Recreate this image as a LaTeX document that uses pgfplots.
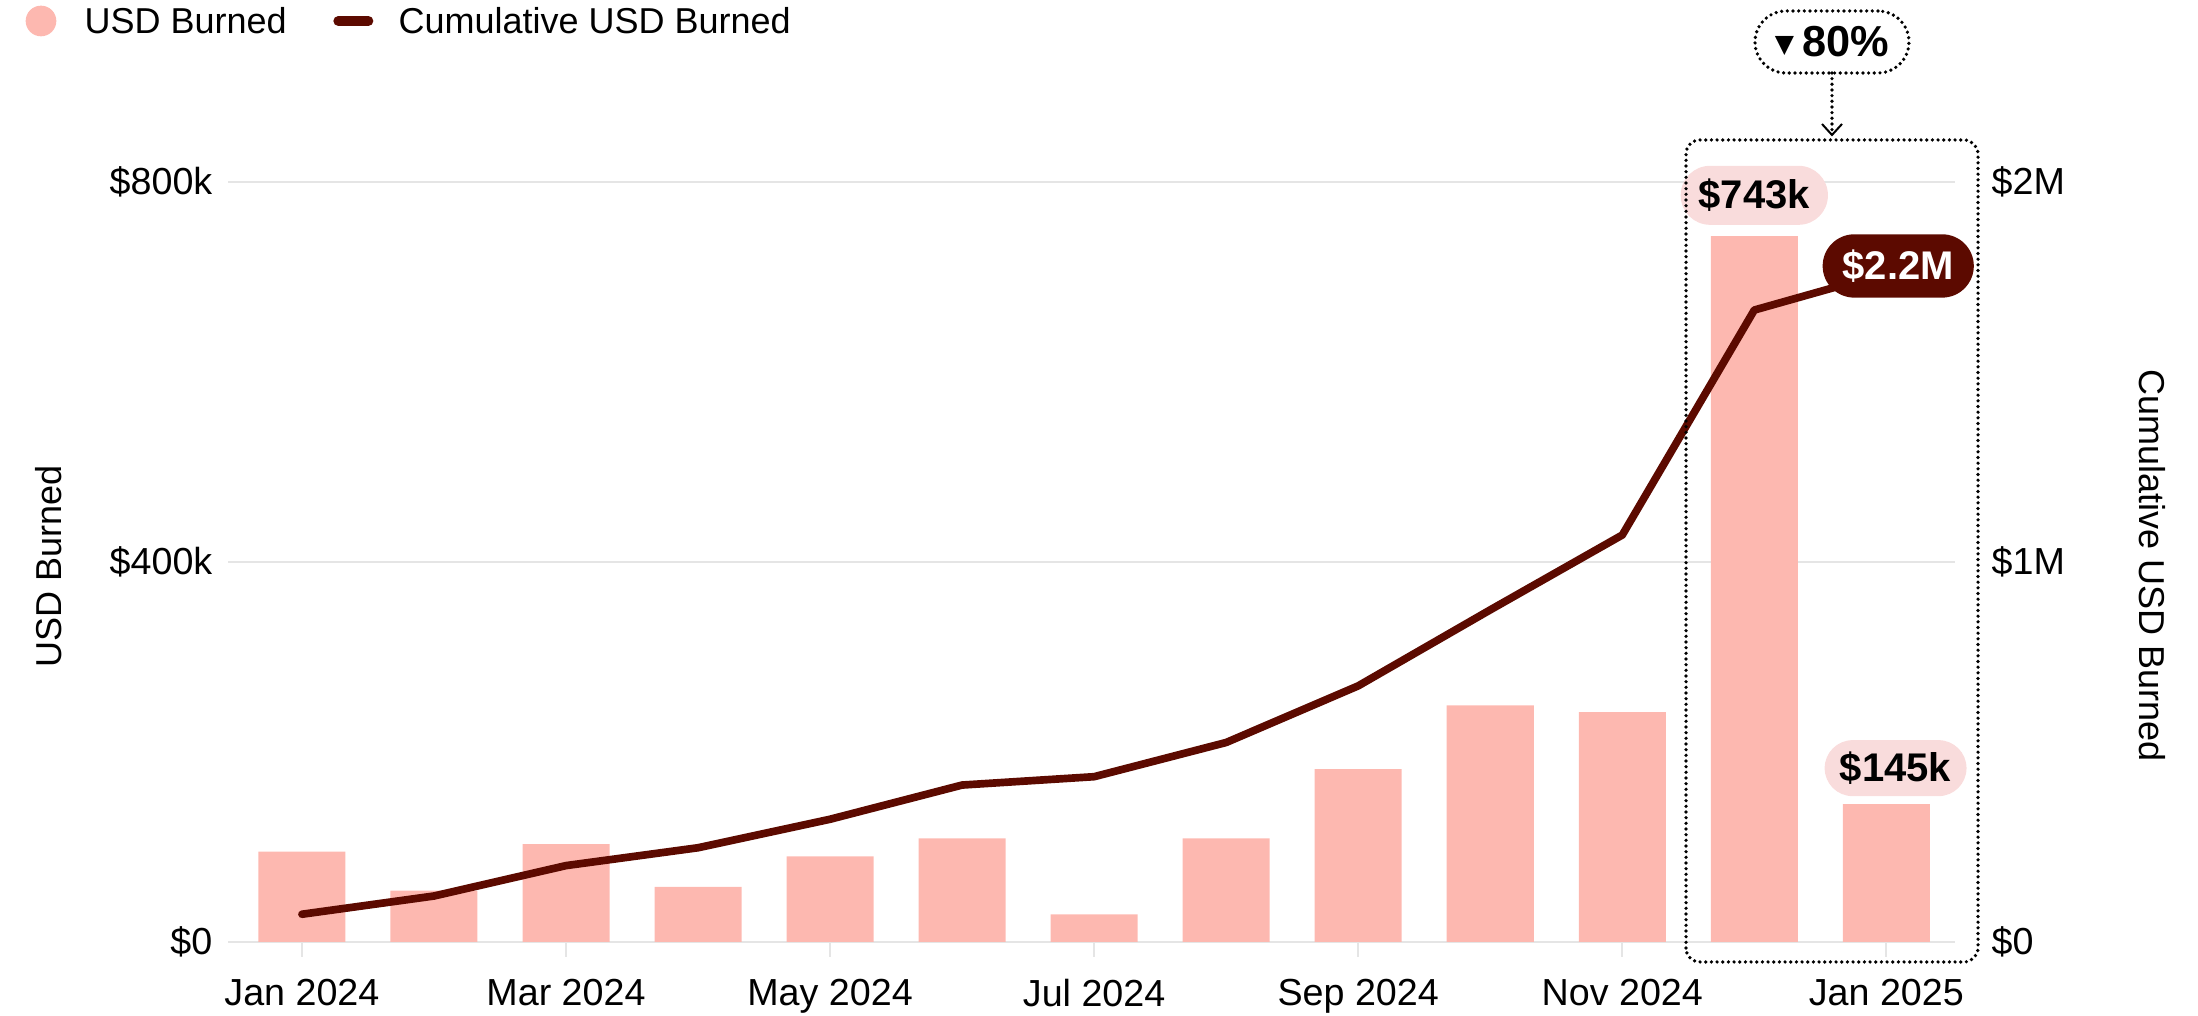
\documentclass[border=0pt]{standalone}
\usepackage{pgfplots}
\pgfplotsset{compat=1.18}
\usepackage{fontspec}
\setmainfont{Liberation Sans}
\newfontfamily\dejavu{DejaVu Sans}
\usetikzlibrary{arrows.meta}
\definecolor{barpink}{RGB}{253,184,176}
\definecolor{maroon}{RGB}{92,10,0}
\definecolor{pillpink}{RGB}{249,220,220}
\definecolor{gridgray}{RGB}{229,229,229}
\begin{document}
\begin{tikzpicture}
\path[use as bounding box] (0,0) rectangle (659.4pt,304.8pt);
\begin{axis}[
  at={(68.4pt,22.2pt)}, anchor=south west,
  scale only axis, width=518.1pt, height=228pt,
  xmin=-0.56, xmax=12.52, ymin=0, ymax=800,
  axis line style={draw=none},
  ytick={0,400,800}, yticklabels={\$0,\$400k,\$800k},
  ymajorgrids, grid style={gridgray, line width=0.6pt},
  ytick style={draw=none},
  xtick={0,2,4,6,8,10,12}, xtick pos=bottom, ytick pos=left,
  xticklabels={Jan 2024,Mar 2024,May 2024,Jul 2024,Sep 2024,Nov 2024,Jan 2025},
  xtick style={draw=gridgray, line width=0.6pt},
  tick align=outside, major tick length=4.5pt,
  ticklabel style={font=\fontsize{11.3}{13}\selectfont},
  yticklabel style={anchor=east, inner sep=0pt, xshift=0pt},
  xticklabel style={anchor=north, inner sep=0pt, yshift=-6.5pt},
  clip=false,
]
\addplot[ybar, bar width=26.1pt, fill=barpink, draw=none] coordinates {
(0,95) (1,54) (2,103) (3,58) (4,90) (5,109) (6,29) (7,109) (8,182) (9,249) (10,242) (11,743) (12,145)};
\node[fill=pillpink, rounded corners=8.8pt, inner xsep=5.4pt, inner ysep=0pt, minimum height=17.7pt, font=\bfseries\fontsize{12}{14}\selectfont] at (axis cs:11,786) {\$743k};
\node[fill=pillpink, rounded corners=8.4pt, inner xsep=4.6pt, inner ysep=0pt, minimum height=16.8pt, font=\bfseries\fontsize{12}{14}\selectfont] at (axis cs:12.07,183) {\$145k};
\end{axis}
\begin{axis}[
  at={(68.4pt,22.2pt)}, anchor=south west,
  scale only axis, width=518.1pt, height=228pt,
  xmin=-0.56, xmax=12.52, ymin=0, ymax=2000,
  hide x axis, axis y line*=right,
  axis line style={draw=none},
  ytick={0,1000,2000}, yticklabels={\$0,\$1M,\$2M},
  ytick style={draw=none},
  ticklabel style={font=\fontsize{11.3}{13}\selectfont},
  yticklabel style={anchor=west, inner sep=0pt, xshift=10.8pt},
  clip=false,
]
\addplot[maroon, line width=2.3pt, line join=round, line cap=round] coordinates {
(0,73) (1,121) (2,201) (3,248) (4,323) (5,413) (6,435) (7,525) (8,674) (9,874) (10,1071) (11,1663) (12,1761)};
\node[fill=maroon, text=white, rounded corners=9.5pt, inner xsep=6pt, inner ysep=0pt, minimum height=19pt, font=\bfseries\fontsize{12}{14}\selectfont] at (axis cs:12.09,1779) {\$2.2M};
\end{axis}
% highlight box
\draw[line width=1.1pt, dash pattern=on 0pt off 1.7pt, line cap=round, rounded corners=4.2pt] (505.8pt,16.2pt) rectangle (593.4pt,262.8pt);
\node[draw, line width=1.1pt, dash pattern=on 0pt off 1.7pt, line cap=round, rounded corners=9.3pt, minimum width=46.2pt, minimum height=18.6pt, inner sep=0pt, font=\bfseries\fontsize{13}{15}\selectfont] at (549.6pt,292.2pt) {\raisebox{1.2pt}{\dejavu\fontsize{7.5}{8}\selectfont ▼}\hspace{2.5pt}80\%};
\draw[line width=1.1pt, dash pattern=on 0pt off 1.7pt, line cap=round] (549.6pt,282.9pt) -- (549.6pt,264.5pt);
\draw[line width=0.6pt] (546.6pt,267.6pt) -- (549.6pt,264.3pt) -- (552.6pt,267.6pt);
% legend
\fill[barpink] (12.3pt,298.5pt) circle (4.6pt);
\node[anchor=west, inner sep=0pt, font=\fontsize{10.8}{12}\selectfont] at (25.2pt,298.5pt) {USD Burned};
\draw[maroon, line width=3pt, line cap=round] (101.5pt,298.5pt) -- (110.5pt,298.5pt);
\node[anchor=west, inner sep=0pt, font=\fontsize{10.8}{12}\selectfont] at (119.4pt,298.5pt) {Cumulative USD Burned};
% axis titles
\node[rotate=90, inner sep=0pt, font=\fontsize{10.8}{12}\selectfont] at (14.7pt,135pt) {USD Burned};
\node[rotate=-90, inner sep=0pt, font=\fontsize{10.8}{12}\selectfont] at (645.6pt,135pt) {Cumulative USD Burned};
\end{tikzpicture}
\end{document}
